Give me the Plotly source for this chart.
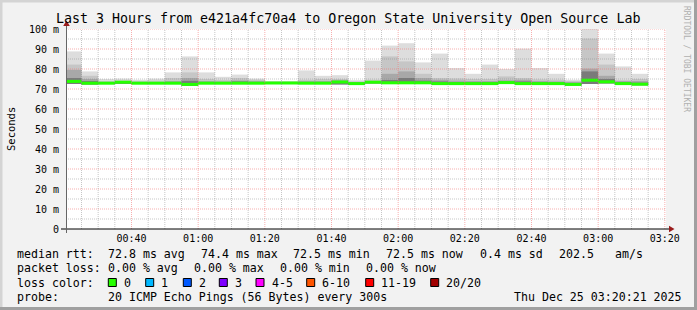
import plotly.graph_objects as go

# ---------------- data ----------------
W, H = 697, 310
L, R, T, B = 66, 31, 29, 81
PW, PH = W - L - R, H - T - B  # 600 x 200

t_start = 20 + 21 / 60.0          # 00:20:21 in minutes after midnight
t_end = t_start + 180.0           # 03:20:21
step_end = list(range(25, 200, 5))  # rrd step end times (minutes)

smoke_max = [88.8, 78.8, 75.0, 75.2, 74.6, 75.2, 78.3, 86.3, 78.3, 76.1,
             77.2, 75.2, 74.0, 74.0, 79.3, 76.6, 76.9, 74.4, 84.2, 91.7,
             92.9, 83.3, 87.7, 80.5, 77.6, 82.2, 80.0, 90.2, 80.5, 77.6,
             74.6, 100.4, 87.7, 81.3, 77.6]
smoke_q2 = [82.2, 76.6, 74.0, 74.2, 74.0, 74.2, 75.5, 78.3, 75.0, 74.5,
            75.5, 74.6, 73.6, 73.6, 74.6, 75.0, 75.0, 73.8, 74.6, 86.3,
            83.8, 77.6, 75.5, 75.3, 75.0, 75.0, 76.3, 75.5, 74.8, 74.6,
            74.0, 95.2, 82.2, 74.4, 75.0]
smoke_q3 = [79.6, 75.0, 73.5, 73.8, 73.5, 73.5, 74.0, 75.5, 74.0, 73.8,
            74.3, 74.0, 73.4, 73.4, 74.0, 74.0, 74.4, 73.4, 74.0, 77.6,
            78.8, 75.5, 74.6, 74.2, 74.0, 74.0, 74.4, 74.6, 74.0, 73.8,
            73.5, 80.2, 76.6, 74.0, 74.0]
smoke_q4 = [75.5, 74.0, 73.3, 73.6, 73.3, 73.3, 73.5, 74.1, 73.5, 73.4,
            73.8, 73.5, 73.2, 73.2, 73.5, 73.5, 74.0, 73.2, 73.8, 74.5,
            75.5, 74.2, 73.8, 73.5, 73.4, 73.4, 73.8, 73.8, 73.4, 73.2,
            73.0, 78.8, 75.0, 73.4, 73.2]
median = [73.8, 72.9, 72.9, 73.4, 72.9, 72.9, 72.9, 72.3, 72.9, 72.9,
          72.9, 72.9, 73.0, 73.0, 72.9, 72.9, 73.5, 72.7, 73.4, 73.1,
          73.1, 73.1, 72.7, 72.7, 72.7, 72.7, 73.2, 72.7, 72.7, 72.7,
          72.3, 74.4, 73.6, 72.7, 72.4]
smoke_min = [72.5, 72.3, 72.5, 72.6, 72.5, 72.5, 72.5, 71.6, 72.5, 72.5,
             72.5, 72.5, 72.6, 72.6, 72.5, 72.5, 72.3, 72.3, 72.8, 72.5,
             72.5, 72.5, 72.3, 72.3, 72.3, 72.3, 72.6, 72.3, 72.3, 72.3,
             71.8, 72.5, 72.8, 72.3, 71.9]

x_tick_vals = [40, 60, 80, 100, 120, 140, 160, 180, 200]
x_tick_text = ["00:40", "01:00", "01:20", "01:40", "02:00", "02:20", "02:40", "03:00", "03:20"]
y_tick_vals = [0, 10, 20, 30, 40, 50, 60, 70, 80, 90, 100]
y_tick_text = ["0", "10 m", "20 m", "30 m", "40 m", "50 m", "60 m", "70 m", "80 m", "90 m", "100 m"]

title_text = "Last 3 Hours from e421a4fc70a4 to Oregon State University Open Source Lab"
rtt_labels = ["median rtt:", "72.8 ms avg", "74.4 ms max", "72.5 ms min", "72.5 ms now",
              "0.4 ms sd", "202.5", "am/s"]
loss_labels_row = ["packet loss:", "0.00 % avg", "0.00 % max", "0.00 % min", "0.00 % now"]
loss_names = ["0", "1", "2", "3", "4-5", "6-10", "11-19", "20/20"]
loss_colors = ["#26ff00", "#00b8ff", "#0059ff", "#7e00ff", "#ff00ff", "#ff5500", "#ff0000", "#a10000"]
probe_text = "20 ICMP Echo Pings (56 Bytes) every 300s"
date_text = "Thu Dec 25 03:20:21 2025"

# ---------------- helpers ----------------
def fx(px):
    return (px - L) / PW

def fy(py):
    return (H - B - py) / PH

lefts = [max(e - 5, t_start) for e in step_end]
centers = [(a + e) / 2 for a, e in zip(lefts, step_end)]
widths = [e - a for a, e in zip(lefts, step_end)]

fig = go.Figure()

def band(lo, hi, color):
    fig.add_trace(go.Bar(x=centers, y=[h - l for l, h in zip(lo, hi)], base=lo, width=widths,
                         marker=dict(color=color, line=dict(width=0)), hoverinfo="skip",
                         showlegend=False))

band(smoke_min, smoke_max, "#dddddd")
band(smoke_min, smoke_q2, "#c6c6c6")
band(smoke_min, smoke_q3, "#a8a8a8")
band(smoke_min, smoke_q4, "#7a7a7a")
band([m - 0.75 for m in median], [m + 0.75 for m in median], "#26ff00")

shapes = []
MONO = "DejaVu Sans Mono"

# grid (drawn above the data, like rrdtool)
for t in range(25, 201, 5):
    major = (t % 20 == 0)
    shapes.append(dict(type="line", xref="x", yref="paper", x0=t, x1=t, y0=0, y1=1,
                       layer="above",
                       line=dict(color="rgba(240,110,110,0.55)" if major else "rgba(128,128,128,0.45)",
                                 width=1, dash="1px,1px")))
for v in range(5, 101, 5):
    major = (v % 10 == 0)
    shapes.append(dict(type="line", xref="paper", yref="y", x0=0, x1=1, y0=v, y1=v,
                       layer="above",
                       line=dict(color="rgba(240,110,110,0.55)" if major else "rgba(128,128,128,0.45)",
                                 width=1, dash="1px,1px")))

# axes
shapes.append(dict(type="line", xref="paper", yref="paper", x0=fx(61), x1=fx(670), y0=fy(229), y1=fy(229),
                   layer="above", line=dict(color="#000000", width=1)))
shapes.append(dict(type="line", xref="paper", yref="paper", x0=fx(66.5), x1=fx(66.5), y0=fy(233), y1=fy(25),
                   layer="above", line=dict(color="#666666", width=1)))
shapes.append(dict(type="path", xref="paper", yref="paper", layer="above",
                   path=f"M {fx(63.2)} {fy(26)} L {fx(69.8)} {fy(26)} L {fx(66.5)} {fy(20.5)} Z",
                   fillcolor="#9a1c1c", line=dict(width=0)))
shapes.append(dict(type="path", xref="paper", yref="paper", layer="above",
                   path=f"M {fx(669)} {fy(225.7)} L {fx(669)} {fy(232.3)} L {fx(674.5)} {fy(229)} Z",
                   fillcolor="#9a1c1c", line=dict(width=0)))

# frame
shapes.append(dict(type="rect", xref="paper", yref="paper", x0=fx(0), x1=fx(697), y0=fy(0), y1=fy(2.5),
                   fillcolor="#d4d4d4", line=dict(width=0), layer="below"))
shapes.append(dict(type="rect", xref="paper", yref="paper", x0=fx(0), x1=fx(2.5), y0=fy(0), y1=fy(310),
                   fillcolor="#d4d4d4", line=dict(width=0), layer="below"))
shapes.append(dict(type="rect", xref="paper", yref="paper", x0=fx(0), x1=fx(697), y0=fy(307), y1=fy(310),
                   fillcolor="#a0a0a0", line=dict(width=0), layer="below"))
shapes.append(dict(type="rect", xref="paper", yref="paper", x0=fx(694), x1=fx(697), y0=fy(0), y1=fy(310),
                   fillcolor="#a0a0a0", line=dict(width=0), layer="below"))

# legend boxes
box_x = [108.3, 145.7, 183.3, 219.3, 256.0, 306.7, 365.7, 430.7]
for bx, c in zip(box_x, loss_colors):
    shapes.append(dict(type="rect", xref="paper", yref="paper", x0=fx(bx), x1=fx(bx + 8),
                       y0=fy(278.5), y1=fy(286.5), fillcolor=c, line=dict(color="#000000", width=1)))

ann = []

def text(px, py, s, size=11.6, anchor="left", color="#000000", angle=0):
    ann.append(dict(xref="paper", yref="paper", x=fx(px), y=fy(py), text=s, showarrow=False,
                    xanchor=anchor, yanchor="middle", textangle=angle,
                    font=dict(family=MONO, size=size, color=color)))

text(347.5, 19, title_text, size=13.3, anchor="center")
text(11, 129, "Seconds", size=10.5, anchor="center", angle=-90)
text(687, 59, "RRDTOOL / TOBI OETIKER", size=8, anchor="center", color="#b0b0b0", angle=90)

rtt_x = [16, 107.3, 200, 292.7, 385.4, 479.3, 558.3, 614.3]
for px, s in zip(rtt_x, rtt_labels):
    text(px - 1.5, 254, s)
loss_x = [16, 107.3, 193.3, 279.3, 365.0]
for px, s in zip(loss_x, loss_labels_row):
    text(px - 1.5, 268, s)
text(16 - 1.5, 282.5, "loss color:")
for bx, s in zip(box_x, loss_names):
    text(bx + 15 - 1.5, 282.5, s)
text(16 - 1.5, 297, "probe:")
text(107.3 - 1.5, 297, probe_text)
text(513 - 1.5, 297, date_text)

fig.update_layout(
    width=W, height=H, margin=dict(l=L, r=R, t=T, b=B, pad=0),
    paper_bgcolor="#f2f2f2", plot_bgcolor="#ffffff",
    barmode="overlay", showlegend=False,
    shapes=shapes, annotations=ann,
    xaxis=dict(range=[t_start, t_end], tickvals=x_tick_vals, ticktext=x_tick_text,
               showgrid=False, zeroline=False, showline=False, ticks="",
               tickfont=dict(family=MONO, size=10, color="#000000"), ticklabelstandoff=2,
               fixedrange=True),
    yaxis=dict(range=[0, 100], tickvals=y_tick_vals, ticktext=y_tick_text,
               showgrid=False, zeroline=False, showline=False, ticks="",
               tickfont=dict(family=MONO, size=10, color="#000000"), ticklabelstandoff=6,
               fixedrange=True),
)

fig.write_html("out.html")
